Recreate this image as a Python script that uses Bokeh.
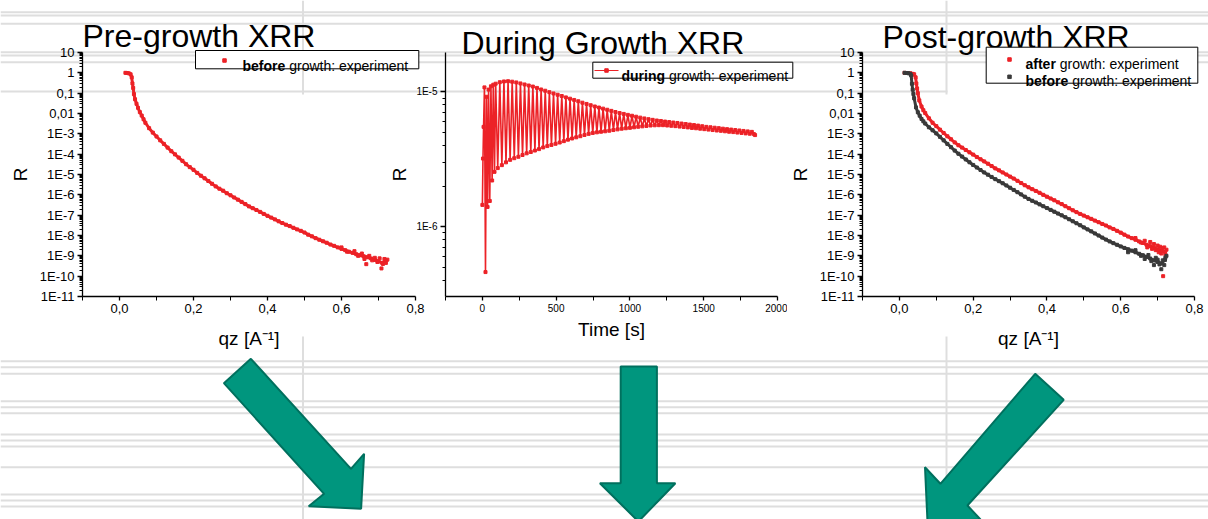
from bokeh.plotting import figure
from bokeh.models import Range1d, FixedTicker, Column
from bokeh.embed import file_html
from bokeh.resources import INLINE
from bokeh.core.properties import value

FONT = "Liberation Sans"
RED = "#ec2227"
GREY = "#3a3a3a"
TEAL = "#00967e"
TEAL_EDGE = "#00705e"
BGLINE = "#dedede"

# ---------------- data ----------------
titles = ["Pre-growth XRR", "During Growth XRR", "Post-growth XRR"]

qz_ticks = [0.0, 0.2, 0.4, 0.6, 0.8]
qz_tick_labels = ["0,0", "0,2", "0,4", "0,6", "0,8"]
r_ticks = [1e-11, 1e-10, 1e-9, 1e-8, 1e-7, 1e-6, 1e-5, 1e-4, 1e-3, 0.01, 0.1, 1, 10]
r_tick_labels = ["1E-11", "1E-10", "1E-9", "1E-8", "1E-7", "1E-6", "1E-5", "1E-4", "1E-3",
                 "0,01", "0,1", "1", "10"]
t_ticks = [0, 500, 1000, 1500, 2000]
t_tick_labels = ["0", "500", "1000", "1500", "2000"]
rt_ticks = [1e-6, 1e-5]
rt_tick_labels = ["1E-6", "1E-5"]

# Pre-growth (before growth) reflectivity
pre_qz = [0.016, 0.02, 0.025, 0.03, 0.033, 0.035, 0.037, 0.039, 0.042, 0.046, 0.05, 0.055, 0.06, 0.065,
          0.07, 0.08, 0.09, 0.10, 0.11, 0.12, 0.13, 0.14, 0.15, 0.16, 0.17, 0.18, 0.19, 0.20,
          0.21, 0.22, 0.23, 0.24, 0.25, 0.26, 0.27, 0.28, 0.29, 0.30, 0.31, 0.32, 0.33, 0.34,
          0.35, 0.36, 0.37, 0.38, 0.39, 0.40, 0.41, 0.42, 0.43, 0.44, 0.45, 0.46, 0.47, 0.48,
          0.49, 0.50, 0.51, 0.52, 0.53, 0.54, 0.55, 0.56, 0.57, 0.58, 0.59, 0.60, 0.61, 0.62,
          0.63, 0.64, 0.65, 0.66, 0.67, 0.68, 0.69, 0.70, 0.71, 0.72]
pre_r = [1.0, 0.98, 0.95, 0.85, 0.6, 0.3, 0.18, 0.09, 0.05, 0.03, 0.019, 0.0117, 0.0079, 0.0052,
         3.5e-3, 1.9e-3, 1.15e-3, 7.4e-4, 4.8e-4, 3.2e-4, 2.1e-4, 1.4e-4, 9.8e-5, 6.8e-5, 4.7e-5, 3.2e-5, 2.3e-5, 1.7e-5,
         1.2e-5, 8.7e-6, 6.5e-6, 4.8e-6, 3.5e-6, 2.6e-6, 2.0e-6, 1.6e-6, 1.2e-6, 9.5e-7, 7.4e-7, 5.8e-7, 4.5e-7, 3.5e-7,
         2.7e-7, 2.2e-7, 1.8e-7, 1.45e-7, 1.15e-7, 9.3e-8, 7.6e-8, 6.2e-8, 5.0e-8, 4.1e-8, 3.4e-8, 2.9e-8, 2.4e-8, 2.0e-8,
         1.7e-8, 1.4e-8, 1.1e-8, 9.1e-9, 7.4e-9, 6.2e-9, 5.2e-9, 4.4e-9, 3.6e-9, 3.1e-9, 2.6e-9, 2.2e-9, 1.9e-9, 1.6e-9,
         1.4e-9, 1.2e-9, 1.07e-9, 9.5e-10, 8.5e-10, 7.4e-10, 6.3e-10, 5.4e-10, 4.5e-10, 6.0e-10]
pre_tail_qz = [0.60, 0.615, 0.635, 0.645, 0.655, 0.662, 0.667, 0.675, 0.683, 0.69, 0.697, 0.703, 0.708,
               0.712, 0.716, 0.72, 0.724]
pre_tail_r = [2.6e-9, 1.6e-9, 1.7e-9, 1.0e-9, 1.3e-9, 7.0e-10, 3.9e-10, 1.0e-9, 6.0e-10, 8.0e-10, 5.0e-10,
              7.5e-10, 2.4e-10, 4.0e-10, 7.0e-10, 4.5e-10, 6.5e-10]

# During growth reflectivity vs time [s]
dur_t = [0, 4, 8, 14, 21, 28, 35, 42, 50, 58, 66, 74, 82, 90,
         104, 118, 132, 146, 160, 174, 188, 202, 216, 230, 244, 258, 272, 286, 300, 314,
         328, 342, 356, 370, 384, 398, 412, 426, 440, 454, 468, 482, 496, 510, 524, 538,
         552, 566, 580, 594, 608, 622, 636, 650, 664, 678, 692, 706, 720, 734, 748, 762,
         776, 790, 804, 818, 832, 846, 860, 874, 888, 902, 916, 930, 944, 958, 972, 986,
         1000, 1014, 1028, 1042, 1056, 1070, 1084, 1098, 1112, 1126, 1140, 1154, 1168, 1182, 1196, 1210,
         1224, 1238, 1252, 1266, 1280, 1294, 1308, 1322, 1336, 1350, 1364, 1378, 1392, 1406, 1420, 1434,
         1448, 1462, 1476, 1490, 1504, 1518, 1532, 1546, 1560, 1574, 1588, 1602, 1616, 1630, 1644, 1658,
         1672, 1686, 1700, 1714, 1728, 1742, 1756, 1770, 1784, 1798, 1812, 1826, 1840, 1848]
dur_r = [1.45e-6, 3.2e-6, 5.5e-6, 10.8e-6, 0.46e-6, 9.2e-6, 1.40e-6, 10.4e-6, 1.55e-6, 11.0e-6, 2.2e-6, 11.3e-6, 2.55e-6, 11.5e-6,
         2.72e-6, 11.8e-6, 2.86e-6, 11.95e-6, 3.0e-6, 12.0e-6, 3.13e-6, 11.9e-6, 3.22e-6, 11.75e-6, 3.3e-6, 11.55e-6, 3.4e-6, 11.35e-6, 3.5e-6, 11.15e-6,
         3.58e-6, 10.95e-6, 3.67e-6, 10.7e-6, 3.76e-6, 10.42e-6, 3.87e-6, 10.2e-6, 3.96e-6, 9.95e-6, 4.04e-6, 9.73e-6, 4.12e-6, 9.52e-6, 4.21e-6, 9.32e-6,
         4.31e-6, 9.1e-6, 4.42e-6, 8.9e-6, 4.51e-6, 8.71e-6, 4.6e-6, 8.52e-6, 4.69e-6, 8.31e-6, 4.79e-6, 8.14e-6, 4.88e-6, 7.96e-6, 4.96e-6, 7.79e-6,
         5.01e-6, 7.65e-6, 5.06e-6, 7.51e-6, 5.1e-6, 7.37e-6, 5.15e-6, 7.23e-6, 5.21e-6, 7.09e-6, 5.27e-6, 6.96e-6, 5.33e-6, 6.86e-6, 5.37e-6, 6.75e-6,
         5.41e-6, 6.65e-6, 5.46e-6, 6.54e-6, 5.51e-6, 6.44e-6, 5.55e-6, 6.35e-6, 5.59e-6, 6.27e-6, 5.63e-6, 6.2e-6, 5.65e-6, 6.13e-6, 5.66e-6, 6.08e-6,
         5.66e-6, 6.02e-6, 5.63e-6, 5.97e-6, 5.6e-6, 5.92e-6, 5.57e-6, 5.88e-6, 5.53e-6, 5.82e-6, 5.49e-6, 5.77e-6, 5.45e-6, 5.72e-6, 5.4e-6, 5.67e-6,
         5.37e-6, 5.62e-6, 5.33e-6, 5.56e-6, 5.29e-6, 5.5e-6, 5.25e-6, 5.46e-6, 5.21e-6, 5.42e-6, 5.17e-6, 5.38e-6, 5.14e-6, 5.33e-6, 5.1e-6, 5.29e-6,
         5.06e-6, 5.25e-6, 5.03e-6, 5.21e-6, 4.99e-6, 5.17e-6, 4.96e-6, 5.13e-6, 4.92e-6, 5.09e-6, 4.89e-6, 5.05e-6, 4.86e-6, 4.78e-6]

# Post-growth: after growth (red)
after_qz = [0.014, 0.02, 0.03, 0.036, 0.04, 0.044, 0.046, 0.048, 0.05, 0.054, 0.06, 0.065,
            0.07, 0.08, 0.09, 0.10, 0.11, 0.12, 0.13, 0.14, 0.15, 0.16, 0.17, 0.18, 0.19, 0.20,
            0.21, 0.22, 0.23, 0.24, 0.25, 0.26, 0.27, 0.28, 0.29, 0.30, 0.31, 0.32, 0.33, 0.34,
            0.35, 0.36, 0.37, 0.38, 0.39, 0.40, 0.41, 0.42, 0.43, 0.44, 0.45, 0.46, 0.47, 0.48,
            0.49, 0.50, 0.51, 0.52, 0.53, 0.54, 0.55, 0.56, 0.57, 0.58, 0.59, 0.60, 0.61, 0.62,
            0.63, 0.64, 0.65, 0.66, 0.67, 0.68, 0.69, 0.70, 0.71, 0.72]
after_r = [1.0, 0.98, 0.95, 0.89, 0.85, 0.6, 0.3, 0.17, 0.1, 0.044, 0.022, 0.0145,
           0.0105, 5.8e-3, 3.5e-3, 2.4e-3, 1.6e-3, 1.1e-3, 7.6e-4, 5.4e-4, 3.8e-4, 2.75e-4, 2.1e-4, 1.6e-4, 1.23e-4, 9.5e-5,
           7.2e-5, 5.6e-5, 4.4e-5, 3.4e-5, 2.6e-5, 2.0e-5, 1.6e-5, 1.26e-5, 1.0e-5, 7.9e-6, 6.3e-6, 4.9e-6, 3.8e-6, 2.95e-6,
           2.35e-6, 1.9e-6, 1.55e-6, 1.26e-6, 1.0e-6, 8.1e-7, 6.6e-7, 5.4e-7, 4.3e-7, 3.5e-7, 2.75e-7, 2.2e-7, 1.74e-7, 1.41e-7,
           1.15e-7, 9.5e-8, 7.9e-8, 6.6e-8, 5.4e-8, 4.5e-8, 3.7e-8, 3.1e-8, 2.5e-8, 2.1e-8, 1.7e-8, 1.38e-8, 1.1e-8, 8.9e-9,
           7.4e-9, 6.2e-9, 5.1e-9, 4.3e-9, 3.5e-9, 3.0e-9, 2.5e-9, 2.1e-9, 1.8e-9, 1.6e-9]
after_tail_qz = [0.64, 0.655, 0.665, 0.672, 0.68, 0.685, 0.69, 0.695, 0.70, 0.703, 0.707, 0.71, 0.713,
                 0.715, 0.718, 0.721, 0.724]
after_tail_r = [7.5e-9, 4.5e-9, 5.5e-9, 2.6e-9, 4.8e-9, 2.2e-9, 3.8e-9, 1.9e-9, 3.2e-9, 1.5e-9, 2.8e-9,
                1.3e-9, 2.4e-9, 1.0e-10, 2.6e-9, 1.2e-9, 2.0e-9]

# Post-growth: before growth (grey)
before_qz = [0.014, 0.02, 0.025, 0.03, 0.032, 0.034, 0.036, 0.038, 0.04, 0.045, 0.05, 0.055, 0.06, 0.065,
             0.07, 0.08, 0.09, 0.10, 0.11, 0.12, 0.13, 0.14, 0.15, 0.16, 0.17, 0.18, 0.19, 0.20,
             0.21, 0.22, 0.23, 0.24, 0.25, 0.26, 0.27, 0.28, 0.29, 0.30, 0.31, 0.32, 0.33, 0.34,
             0.35, 0.36, 0.37, 0.38, 0.39, 0.40, 0.41, 0.42, 0.43, 0.44, 0.45, 0.46, 0.47, 0.48,
             0.49, 0.50, 0.51, 0.52, 0.53, 0.54, 0.55, 0.56, 0.57, 0.58, 0.59, 0.60, 0.61, 0.62,
             0.63, 0.64, 0.65, 0.66, 0.67, 0.68, 0.69, 0.70, 0.71, 0.72]
before_r = [1.0, 0.98, 0.95, 0.89, 0.74, 0.29, 0.15, 0.09, 0.056, 0.02, 0.0115, 7.8e-3, 5.4e-3, 4.1e-3,
            3.2e-3, 2.1e-3, 1.5e-3, 1.05e-3, 7.1e-4, 4.8e-4, 3.2e-4, 2.2e-4, 1.5e-4, 1.05e-4, 7.6e-5, 5.5e-5, 4.0e-5, 2.95e-5,
            2.2e-5, 1.66e-5, 1.26e-5, 9.8e-6, 7.6e-6, 5.9e-6, 4.7e-6, 3.7e-6, 2.9e-6, 2.24e-6, 1.74e-6, 1.35e-6, 1.05e-6, 8.1e-7,
            6.3e-7, 5.1e-7, 4.2e-7, 3.4e-7, 2.75e-7, 2.24e-7, 1.82e-7, 1.48e-7, 1.2e-7, 9.8e-8, 7.9e-8, 6.3e-8, 5.0e-8, 4.0e-8,
            3.2e-8, 2.5e-8, 2.0e-8, 1.6e-8, 1.26e-8, 1.0e-8, 7.9e-9, 6.3e-9, 5.1e-9, 4.2e-9, 3.5e-9, 2.9e-9, 2.45e-9, 2.1e-9,
            1.8e-9, 1.5e-9, 1.26e-9, 1.07e-9, 8.9e-10, 7.4e-10, 6.0e-10, 5.0e-10, 4.2e-10, 6.3e-10]
before_tail_qz = [0.62, 0.64, 0.655, 0.665, 0.675, 0.683, 0.69, 0.695, 0.70, 0.705, 0.71, 0.714, 0.718, 0.721, 0.724]
before_tail_r = [1.5e-9, 1.9e-9, 1.0e-9, 7.0e-10, 1.1e-9, 5.5e-10, 3.5e-10, 8.0e-10, 6.5e-10, 3.8e-10, 2.2e-10,
                 6.0e-10, 3.5e-10, 8.0e-10, 1.0e-9]

# ---------------- background slide canvas ----------------
canvas = figure(width=1208, height=519, x_range=Range1d(0, 1208), y_range=Range1d(519, 0),
                x_axis_location=None, y_axis_location=None, toolbar_location=None,
                output_backend="svg", min_border=0, outline_line_color=None, title=None,
                frame_align=False)
canvas.grid.visible = False

hl_y = [11.7, 15.0, 23.3, 51.7, 55.0, 61.7, 360.7, 366.7, 373.3, 400.7, 406.7, 412.7,
        434.0, 440.0, 446.0, 466.7, 494.0, 500.0, 506.0]
canvas.segment(x0=0, y0=hl_y, x1=1208, y1=hl_y, line_color=BGLINE, line_width=2)
canvas.segment(x0=[0], y0=[91], x1=[947], y1=[91], line_color=BGLINE, line_width=2)
canvas.segment(x0=[302.5, 302.5, 946, 946], y0=[0, 336, 0, 336],
               x1=[302.5, 302.5, 946, 946], y1=[94, 519, 94, 519],
               line_color=BGLINE, line_width=2)

arrow_xs = [
    [250.4, 223.4, 323.6, 308.2, 360.6, 363.6, 350.5],
    [620.2, 656.4, 656.4, 674.9, 637.9, 599.4, 620.2],
    [1034.7, 1063.2, 966.9, 980.0, 927.0, 924.5, 939.9],
]
arrow_ys = [
    [358.3, 382.7, 493.3, 505.7, 508.3, 453.3, 468.3],
    [366.0, 366.0, 482.7, 482.7, 521.0, 482.7, 482.7],
    [373.3, 399.3, 505.0, 519.0, 521.5, 466.7, 483.3],
]
canvas.patches(xs=arrow_xs, ys=arrow_ys, fill_color=TEAL, line_color=TEAL_EDGE, line_width=2)

canvas.text(x=[82, 461, 882], y=[35, 42, 36], text=titles, text_font=value(FONT),
            text_font_size="32px", text_baseline="alphabetic", text_align="left", text_color="black")

# legend boxes
canvas.quad(left=[195, 592.3, 985.7], right=[418.3, 792.3, 1197.3], top=[50, 61.7, 46.7],
            bottom=[68.3, 77.7, 82.7], fill_color="white", line_color="black", line_width=1)
canvas.scatter(x=[224, 1009], y=[60, 59], marker="square", size=3.5, color=RED)
canvas.scatter(x=[1009], y=[76.3], marker="square", size=3.5, color=GREY)
canvas.segment(x0=[594], y0=[70], x1=[618], y1=[70], line_color=RED, line_width=1.2)
canvas.scatter(x=[606], y=[70], marker="square", size=3.5, color=RED)
canvas.text(x=[242, 621, 1025, 1025], y=[65, 75, 63.3, 80],
            text=["before", "during", "after", "before"], text_font=value(FONT),
            text_font_size="14px", text_font_style="bold", text_baseline="alphabetic")
canvas.text(x=[288.7, 668.5, 1059.2, 1071.7], y=[65, 75, 63.3, 80],
            text=["growth: experiment"] * 4, text_font=value(FONT),
            text_font_size="14px", text_baseline="alphabetic")


# ---------------- charts ----------------
def make_chart(left, border_left, frame_w, x_range, y_range, border_right=10):
    p = figure(frame_width=frame_w, frame_height=244, x_range=x_range, y_range=y_range,
               y_axis_type="log", toolbar_location=None, output_backend="svg", title=None,
               min_border_left=border_left, min_border_right=border_right,
               min_border_top=52, min_border_bottom=78, frame_align=False,
               background_fill_alpha=0, border_fill_alpha=0, outline_line_color=None,
               styles={"position": "absolute", "left": f"{left}px", "top": "0px"})
    p.grid.visible = False
    for ax in (p.xaxis[0], p.yaxis[0]):
        ax.axis_line_width = 1.3
        ax.axis_line_color = "black"
        ax.major_tick_line_width = 1.3
        ax.minor_tick_line_width = 1
        ax.major_tick_line_color = "black"
        ax.minor_tick_line_color = "black"
        ax.major_tick_in = 0
        ax.minor_tick_in = 0
        ax.major_label_text_font = FONT
        ax.axis_label_text_font = FONT
        ax.axis_label_text_font_size = "19px"
        ax.axis_label_text_font_style = "normal"
        ax.axis_label_text_color = "black"
        ax.major_label_text_color = "black"
    p.xaxis.major_tick_out = 4
    p.xaxis.minor_tick_out = 4
    p.yaxis.major_tick_out = 5
    p.yaxis.minor_tick_out = 3
    return p


minor_log = [k * 10.0 ** e for e in range(-11, 1) for k in range(2, 10)]
qz_minor = [-0.1, 0.1, 0.3, 0.5, 0.7]


def qz_axes(p):
    p.xaxis.ticker = FixedTicker(ticks=qz_ticks, minor_ticks=qz_minor)
    p.xaxis.major_label_overrides = dict(zip(qz_ticks, qz_tick_labels))
    p.yaxis.ticker = FixedTicker(ticks=r_ticks, minor_ticks=minor_log)
    p.yaxis.major_label_overrides = dict(zip(r_ticks, r_tick_labels))
    p.xaxis.major_label_text_font_size = "13px"
    p.yaxis.major_label_text_font_size = "13px"
    p.xaxis.major_label_standoff = 3
    p.yaxis.major_label_standoff = 3
    p.xaxis.axis_label = "qz [A⁻¹]"
    p.yaxis.axis_label = "R"
    p.xaxis.axis_label_standoff = 12
    p.yaxis.axis_label_standoff = 6


# Pre-growth
p1 = make_chart(0, 82, 333, Range1d(-0.1, 0.8), Range1d(1e-11, 10))
qz_axes(p1)
p1.line(pre_qz, pre_r, line_color=RED, line_width=3)
p1.scatter(pre_qz, pre_r, marker="square", size=3, color=RED)
p1.scatter(pre_tail_qz, pre_tail_r, marker="square", size=3, color=RED)

# During growth
p2 = make_chart(365, 80, 332, Range1d(-250, 2000), Range1d(3.03e-7, 1.96e-5))
p2.xaxis.ticker = FixedTicker(ticks=t_ticks, minor_ticks=[-250, 250, 750, 1250, 1750])
p2.xaxis.major_label_overrides = dict(zip(t_ticks, t_tick_labels))
rt_minor = [3e-7, 4e-7, 5e-7, 6e-7, 7e-7, 8e-7, 9e-7, 2e-6, 3e-6, 4e-6, 5e-6, 6e-6, 7e-6, 8e-6, 9e-6, 2e-5]
p2.yaxis.ticker = FixedTicker(ticks=rt_ticks, minor_ticks=rt_minor)
p2.yaxis.major_label_overrides = dict(zip(rt_ticks, rt_tick_labels))
p2.xaxis.major_label_text_font_size = "10px"
p2.yaxis.major_label_text_font_size = "10px"
p2.xaxis.major_label_standoff = 3
p2.yaxis.major_label_standoff = 3
p2.xaxis.axis_label = "Time [s]"
p2.yaxis.axis_label = "R"
p2.xaxis.axis_label_standoff = 4
p2.yaxis.axis_label_standoff = 3
p2.line(dur_t, dur_r, line_color=RED, line_width=1.6)
p2.scatter(dur_t, dur_r, marker="square", size=3, color=RED)

# Post-growth
p3 = make_chart(780, 82, 332, Range1d(-0.1, 0.8), Range1d(1e-11, 10), border_right=14)
qz_axes(p3)
p3.line(after_qz, after_r, line_color=RED, line_width=3)
p3.scatter(after_qz, after_r, marker="square", size=3, color=RED)
p3.scatter(after_tail_qz, after_tail_r, marker="square", size=3, color=RED)
p3.line(before_qz, before_r, line_color=GREY, line_width=3)
p3.scatter(before_qz, before_r, marker="square", size=3, color=GREY)
p3.scatter(before_tail_qz, before_tail_r, marker="square", size=3, color=GREY)

root = Column(children=[canvas, p1, p2, p3], styles={"position": "relative"})

with open("out.html", "w") as f:
    f.write(file_html(root, INLINE, title="XRR"))
